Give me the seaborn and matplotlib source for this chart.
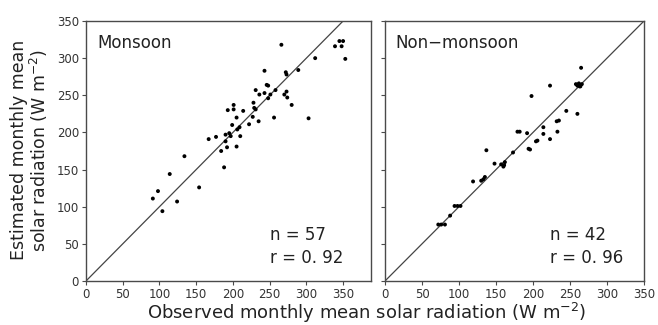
import numpy as np
import pandas as pd
import matplotlib
matplotlib.use("Agg")
import matplotlib.pyplot as plt
import seaborn as sns

# Monsoon season: observed vs estimated monthly mean solar radiation (W m-2)
monsoon_obs = [266, 339, 345, 350, 348, 353, 312, 289, 272, 273, 243, 246, 248,
               231, 236, 258, 251, 248, 270, 273, 274, 280, 303, 256, 228, 229,
               231, 214, 227, 235, 222, 193, 201, 201, 205, 199, 209, 206, 195,
               197, 210, 190, 177, 167, 205, 192, 184, 134, 188, 114, 98, 91,
               104, 124, 154, 243, 190]
monsoon_est = [318, 316, 323, 323, 316, 299, 300, 284, 281, 278, 283, 264, 263,
               257, 251, 257, 251, 246, 251, 255, 247, 237, 219, 220, 240, 233,
               231, 229, 221, 215, 211, 230, 231, 237, 220, 210, 207, 204, 199,
               195, 195, 188, 194, 191, 181, 180, 175, 168, 153, 144, 121, 111,
               94, 107, 126, 253, 197]

# Non-monsoon season
nonmon_obs = [265, 258, 262, 266, 263, 260, 264, 223, 198, 245, 260, 235, 232,
              214, 179, 182, 192, 214, 233, 223, 204, 206, 137, 173, 194, 196,
              148, 157, 160, 162, 161, 119, 130, 133, 135, 94, 98, 102, 88, 72,
              76, 81]
nonmon_est = [287, 265, 266, 265, 262, 263, 262, 263, 249, 229, 225, 216, 215,
              207, 201, 201, 199, 198, 201, 191, 188, 189, 176, 173, 178, 177,
              158, 157, 154, 160, 156, 134, 135, 137, 140, 101, 101, 101, 88, 76,
              76, 76]

panels = [
    ("Monsoon", monsoon_obs, monsoon_est, "n = 57", "r = 0. 92", 388),
    ("Non\u2212monsoon", nonmon_obs, nonmon_est, "n = 42", "r = 0. 96", 350),
]
ticks = [0, 50, 100, 150, 200, 250, 300, 350]

sns.set_theme(style="white")
plt.rcParams["font.family"] = ["DejaVu Sans"]

fig = plt.figure(figsize=(6.58, 3.25), dpi=100)
W, H = 658, 325
boxes = [(86, 21, 371, 281), (385, 21, 644, 281)]
spine_col = "#4a4a4a"

for (title, obs, est, ntxt, rtxt, xmax), (x0, y0, x1, y1) in zip(panels, boxes):
    ax = fig.add_axes([x0 / W, 1 - y1 / H, (x1 - x0) / W, (y1 - y0) / H])
    df = pd.DataFrame({"obs": obs, "est": est})
    ax.plot([0, 400], [0, 400], color="#444444", lw=0.9, zorder=1)
    sns.scatterplot(data=df, x="obs", y="est", ax=ax, color="black", s=8,
                    edgecolor="none", zorder=3, legend=False)
    ax.set_xlim(0, xmax)
    ax.set_ylim(0, 350)
    ax.set_xticks(ticks)
    ax.set_yticks(ticks)
    ax.set_xlabel("")
    ax.set_ylabel("")
    ax.tick_params(axis="both", direction="out", length=3, width=0.8,
                   colors=spine_col, labelsize=8.5, labelcolor="#333333",
                   bottom=True, left=True, pad=2)
    for sp in ax.spines.values():
        sp.set_color(spine_col)
        sp.set_linewidth(1.0)
    ax.text(0.04, 0.915, title, transform=ax.transAxes, fontsize=12,
            color="#222222", va="center", ha="left")
    x_nr = (270 - 86) / 285 if title == "Monsoon" else (550 - 385) / 259
    ax.text(x_nr, 0.175, ntxt, transform=ax.transAxes, fontsize=12,
            color="#222222", va="center", ha="left")
    ax.text(x_nr, 0.088, rtxt, transform=ax.transAxes, fontsize=12,
            color="#222222", va="center", ha="left")
    if title != "Monsoon":
        ax.set_yticklabels([])

fig.text(367 / W, 1 - 313 / H, "Observed monthly mean solar radiation (W m$^{-2}$)",
         ha="center", va="center", fontsize=13, color="#222222")
fig.text(30 / W, 1 - 150 / H, "Estimated monthly mean\nsolar radiation (W m$^{-2}$)",
         ha="center", va="center", rotation=90, fontsize=12.5, color="#222222",
         linespacing=1.0)

fig.savefig("out.png", dpi=100)
